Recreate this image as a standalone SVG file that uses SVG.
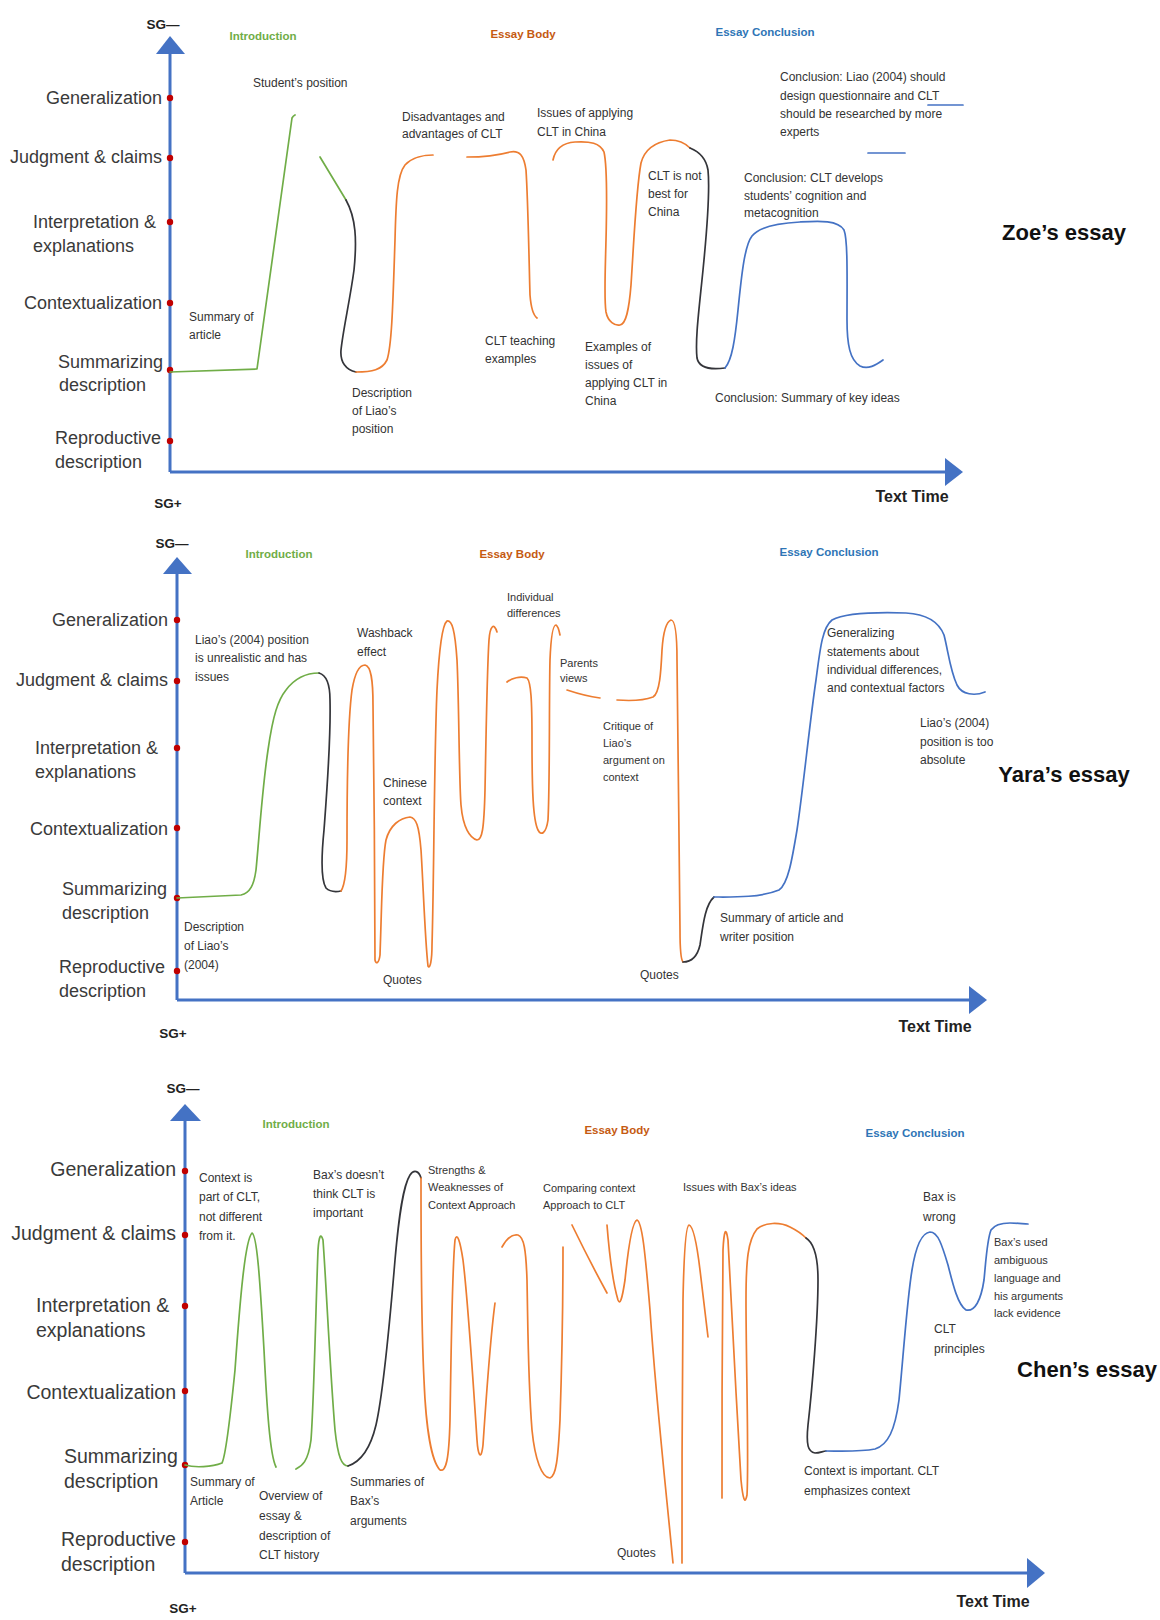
<svg xmlns="http://www.w3.org/2000/svg" width="1160" height="1620" viewBox="0 0 1160 1620">
  <style>
    text { font-family: "Liberation Sans", Arial, sans-serif; fill: #333; }
    .ax { stroke: #4472C4; stroke-width: 3; fill: none; }
    .ah { fill: #4472C4; }
    .dot { fill: #C00000; }
    .lvl { font-size: 18px; fill: #3a3a3a; }
    .lvl3 { font-size: 19.5px; fill: #3a3a3a; }
    .lbl { font-size: 12px; fill: #333; }
    .sm { font-size: 11px; fill: #333; }
    .sec { font-size: 11.5px; font-weight: bold; text-anchor: middle; }
    .intro { fill: #70AD47; }
    .body { fill: #C55A11; }
    .concl { fill: #2E75B6; }
    .sg { font-size: 13.5px; font-weight: bold; fill: #222; text-anchor: middle; }
    .tt { font-size: 16px; font-weight: bold; fill: #222; text-anchor: middle; }
    .ttl { font-size: 22px; font-weight: bold; fill: #111; text-anchor: middle; }
    .c { fill: none; stroke-width: 1.7; stroke-linecap: round; stroke-linejoin: round; }
    .g { stroke: #70AD47; }
    .o { stroke: #ED7D31; }
    .k { stroke: #34353a; }
    .b { stroke: #4472C4; }
  </style>

  <!-- ===== Zoe's essay ===== -->
  <g id="zoe">
    <g id="zoe-axes">
      <line class="ax" x1="170" y1="52" x2="170" y2="472"/>
      <polygon class="ah" points="156,54 170,36 185,54"/>
      <line class="ax" x1="170" y1="472" x2="947" y2="472"/>
      <polygon class="ah" points="945,458 963,472 945,486"/>
      <circle class="dot" cx="170" cy="98" r="3.2"/>
      <circle class="dot" cx="170" cy="158" r="3.2"/>
      <circle class="dot" cx="170" cy="222" r="3.2"/>
      <circle class="dot" cx="170" cy="303" r="3.2"/>
      <circle class="dot" cx="170" cy="370" r="3.2"/>
      <circle class="dot" cx="170" cy="441" r="3.2"/>
      <text class="sg" x="163" y="29">SG—</text>
      <text class="sg" x="168" y="508">SG+</text>
      <text class="tt" x="912" y="502">Text Time</text>
    </g>
    <g id="zoe-levels">
      <text class="lvl" x="162" y="104" text-anchor="end">Generalization</text>
      <text class="lvl" x="162" y="163" text-anchor="end">Judgment &amp; claims</text>
      <text class="lvl" x="33" y="228">Interpretation &amp;</text>
      <text class="lvl" x="33" y="252">explanations</text>
      <text class="lvl" x="162" y="309" text-anchor="end">Contextualization</text>
      <text class="lvl" x="58" y="368">Summarizing</text>
      <text class="lvl" x="59" y="391">description</text>
      <text class="lvl" x="55" y="444">Reproductive</text>
      <text class="lvl" x="55" y="468">description</text>
    </g>
    <g id="zoe-sections">
      <text class="sec intro" x="263" y="40">Introduction</text>
      <text class="sec body" x="523" y="38">Essay Body</text>
      <text class="sec concl" x="765" y="36">Essay Conclusion</text>
    </g>
    <g id="zoe-wave">
      <path class="c g" d="M170,372 L257,369 L292,118 Q293,116 295,115"/>
      <path class="c g" d="M320,157 L346,200"/>
      <path class="c k" d="M346,200 C356,218 357,240 354,270 C350,300 343,330 341,350 C340,362 346,370 356,372"/>
      <path class="c o" d="M356,372 C372,372 382,370 387,360 C392,345 393,300 395,240 C396,200 397,175 405,165 C412,157 425,155 433,155"/>
      <path class="c o" d="M467,157 C480,157 495,156 510,152 C520,150 524,156 526,170 C528,200 529,260 530,295 C531,308 533,315 537,318"/>
      <path class="c o" d="M553,160 C555,150 562,143 575,142 C590,141 600,143 604,152 C607,165 607,200 606,240 C605,280 604,300 606,312 C608,322 615,326 620,325 C626,324 629,310 631,285 C634,240 636,190 641,163 C645,148 656,142 670,140 C680,140 686,144 690,148"/>
      <path class="c k" d="M690,148 C700,152 706,158 708,170 C710,190 707,230 703,270 C699,310 695,340 697,358 C699,368 710,370 725,368"/>
      <path class="c b" d="M725,368 C732,360 735,340 738,310 C742,270 745,245 752,236 C760,226 780,223 800,222 C820,221 838,220 844,230 C848,240 847,280 847,320 C847,345 850,360 860,366 C868,370 876,365 883,360"/>
      <path class="c b" d="M928,105 L963,105"/>
      <path class="c b" d="M868,153 L905,153"/>
    </g>
    <g id="zoe-labels">
      <text class="lbl" x="253" y="87">Student’s position</text>
      <text class="lbl" x="402" y="121">Disadvantages and</text>
      <text class="lbl" x="402" y="138">advantages of CLT</text>
      <text class="lbl" x="537" y="117">Issues of applying</text>
      <text class="lbl" x="537" y="136">CLT in China</text>
      <text class="lbl" x="648" y="180">CLT is not</text>
      <text class="lbl" x="648" y="198">best for</text>
      <text class="lbl" x="648" y="216">China</text>
      <text class="lbl" x="780" y="81">Conclusion: Liao (2004) should</text>
      <text class="lbl" x="780" y="100">design questionnaire and CLT</text>
      <text class="lbl" x="780" y="118">should be researched by more</text>
      <text class="lbl" x="780" y="136">experts</text>
      <text class="lbl" x="744" y="182">Conclusion: CLT develops</text>
      <text class="lbl" x="744" y="200">students’ cognition and</text>
      <text class="lbl" x="744" y="217">metacognition</text>
      <text class="lbl" x="189" y="321">Summary of</text>
      <text class="lbl" x="189" y="339">article</text>
      <text class="lbl" x="352" y="397">Description</text>
      <text class="lbl" x="352" y="415">of Liao’s</text>
      <text class="lbl" x="352" y="433">position</text>
      <text class="lbl" x="485" y="345">CLT teaching</text>
      <text class="lbl" x="485" y="363">examples</text>
      <text class="lbl" x="585" y="351">Examples of</text>
      <text class="lbl" x="585" y="369">issues of</text>
      <text class="lbl" x="585" y="387">applying CLT in</text>
      <text class="lbl" x="585" y="405">China</text>
      <text class="lbl" x="715" y="402">Conclusion: Summary of key ideas</text>
    </g>
    <text class="ttl" x="1064" y="240">Zoe’s essay</text>
  </g>

  <!-- ===== Yara's essay ===== -->
  <g id="yara">
    <g id="yara-axes">
      <line class="ax" x1="177" y1="572" x2="177" y2="1000"/>
      <polygon class="ah" points="163,574 177,557 192,574"/>
      <line class="ax" x1="177" y1="1000" x2="971" y2="1000"/>
      <polygon class="ah" points="969,986 987,1000 969,1014"/>
      <circle class="dot" cx="177" cy="620" r="3.2"/>
      <circle class="dot" cx="177" cy="681" r="3.2"/>
      <circle class="dot" cx="177" cy="748" r="3.2"/>
      <circle class="dot" cx="177" cy="828" r="3.2"/>
      <circle class="dot" cx="177" cy="898" r="3.2"/>
      <circle class="dot" cx="177" cy="971" r="3.2"/>
      <text class="sg" x="172" y="548">SG—</text>
      <text class="sg" x="173" y="1038">SG+</text>
      <text class="tt" x="935" y="1032">Text Time</text>
    </g>
    <g id="yara-levels">
      <text class="lvl" x="168" y="626" text-anchor="end">Generalization</text>
      <text class="lvl" x="168" y="686" text-anchor="end">Judgment &amp; claims</text>
      <text class="lvl" x="35" y="754">Interpretation &amp;</text>
      <text class="lvl" x="35" y="778">explanations</text>
      <text class="lvl" x="168" y="835" text-anchor="end">Contextualization</text>
      <text class="lvl" x="62" y="895">Summarizing</text>
      <text class="lvl" x="62" y="919">description</text>
      <text class="lvl" x="59" y="973">Reproductive</text>
      <text class="lvl" x="59" y="997">description</text>
    </g>
    <g id="yara-sections">
      <text class="sec intro" x="279" y="558">Introduction</text>
      <text class="sec body" x="512" y="558">Essay Body</text>
      <text class="sec concl" x="829" y="556">Essay Conclusion</text>
    </g>
    <g id="yara-wave">
      <path class="c g" d="M177,898 L241,895 C250,893 254,885 256,870 C259,840 262,790 268,750 C273,715 278,700 286,690 C295,678 305,673 319,673"/>
      <path class="c k" d="M319,673 C326,675 330,685 330,700 C331,740 327,790 324,830 C321,860 321,880 326,888 C330,892 336,892 341,891"/>
      <path class="c o" d="M341,891 C345,885 347,870 347,840 C347,790 348,720 352,690 C355,672 360,665 365,665 C371,666 373,680 373,705 C374,770 375,900 375,960 C376,965 379,963 380,955 C382,900 382,860 386,840 C390,825 400,818 410,817 C416,818 419,825 421,850 C423,880 425,940 428,966 C430,970 432,960 432,945 C434,880 434,760 437,690 C439,650 442,625 447,621 C452,620 455,630 457,660 C459,700 459,780 461,805 C463,828 470,838 477,840 C482,840 484,830 485,790 C486,740 487,670 489,640 C490,626 494,622 497,632"/>
      <path class="c o" d="M507,682 C512,678 520,676 527,678 C531,682 532,700 532,740 C532,790 533,820 538,830 C541,836 546,834 548,820 C550,780 549,700 550,660 C551,635 553,625 556,625 C558,626 559,630 560,635"/>
      <path class="c o" d="M567,690 Q585,696 600,698"/>
      <path class="c o" d="M617,700 C630,701 645,700 653,697 C660,693 661,670 662,650 C663,635 666,622 671,620 C675,620 677,635 677,660 C678,720 679,850 680,930 C680,950 681,960 683,962"/>
      <path class="c k" d="M683,962 C690,962 697,958 700,945 C703,925 705,905 714,897"/>
      <path class="c b" d="M714,897 C730,897 760,898 779,890 C788,884 792,860 797,830 C803,790 810,720 816,680 C820,650 822,628 832,620 C845,613 875,612 906,613 C925,614 938,620 944,635 C948,650 950,670 957,685 C962,695 975,696 985,692"/>
    </g>
    <g id="yara-labels">
      <text class="lbl" x="195" y="644">Liao’s (2004) position</text>
      <text class="lbl" x="195" y="662">is unrealistic and has</text>
      <text class="lbl" x="195" y="681">issues</text>
      <text class="lbl" x="184" y="931">Description</text>
      <text class="lbl" x="184" y="950">of Liao’s</text>
      <text class="lbl" x="184" y="969">(2004)</text>
      <text class="lbl" x="357" y="637">Washback</text>
      <text class="lbl" x="357" y="656">effect</text>
      <text class="lbl" x="383" y="787">Chinese</text>
      <text class="lbl" x="383" y="805">context</text>
      <text class="lbl" x="383" y="984">Quotes</text>
      <text class="sm" x="507" y="601">Individual</text>
      <text class="sm" x="507" y="617">differences</text>
      <text class="sm" x="560" y="667">Parents</text>
      <text class="sm" x="560" y="682">views</text>
      <text class="sm" x="603" y="730">Critique of</text>
      <text class="sm" x="603" y="747">Liao’s</text>
      <text class="sm" x="603" y="764">argument on</text>
      <text class="sm" x="603" y="781">context</text>
      <text class="lbl" x="640" y="979">Quotes</text>
      <text class="lbl" x="720" y="922">Summary of article and</text>
      <text class="lbl" x="720" y="941">writer position</text>
      <text class="lbl" x="827" y="637">Generalizing</text>
      <text class="lbl" x="827" y="656">statements about</text>
      <text class="lbl" x="827" y="674">individual differences,</text>
      <text class="lbl" x="827" y="692">and contextual factors</text>
      <text class="lbl" x="920" y="727">Liao’s (2004)</text>
      <text class="lbl" x="920" y="746">position is too</text>
      <text class="lbl" x="920" y="764">absolute</text>
    </g>
    <text class="ttl" x="1064" y="782">Yara’s essay</text>
  </g>

  <!-- ===== Chen's essay ===== -->
  <g id="chen">
    <g id="chen-axes">
      <line class="ax" x1="185" y1="1119" x2="185" y2="1573"/>
      <polygon class="ah" points="170,1121 185,1104 201,1121"/>
      <line class="ax" x1="185" y1="1573" x2="1029" y2="1573"/>
      <polygon class="ah" points="1027,1558 1045,1573 1027,1588"/>
      <circle class="dot" cx="185" cy="1171" r="3.2"/>
      <circle class="dot" cx="185" cy="1235" r="3.2"/>
      <circle class="dot" cx="185" cy="1306" r="3.2"/>
      <circle class="dot" cx="185" cy="1391" r="3.2"/>
      <circle class="dot" cx="185" cy="1465" r="3.2"/>
      <circle class="dot" cx="185" cy="1542" r="3.2"/>
      <text class="sg" x="183" y="1093">SG—</text>
      <text class="sg" x="183" y="1613">SG+</text>
      <text class="tt" x="993" y="1607">Text Time</text>
    </g>
    <g id="chen-levels">
      <text class="lvl3" x="176" y="1176" text-anchor="end">Generalization</text>
      <text class="lvl3" x="176" y="1240" text-anchor="end">Judgment &amp; claims</text>
      <text class="lvl3" x="36" y="1312">Interpretation &amp;</text>
      <text class="lvl3" x="36" y="1337">explanations</text>
      <text class="lvl3" x="176" y="1399" text-anchor="end">Contextualization</text>
      <text class="lvl3" x="64" y="1463">Summarizing</text>
      <text class="lvl3" x="64" y="1488">description</text>
      <text class="lvl3" x="61" y="1546">Reproductive</text>
      <text class="lvl3" x="61" y="1571">description</text>
    </g>
    <g id="chen-sections">
      <text class="sec intro" x="296" y="1128">Introduction</text>
      <text class="sec body" x="617" y="1134">Essay Body</text>
      <text class="sec concl" x="915" y="1137">Essay Conclusion</text>
    </g>
    <g id="chen-wave">
      <path class="c g" d="M185,1465 C195,1468 212,1467 222,1463 C226,1455 230,1420 235,1370 C240,1300 245,1240 252,1233 C257,1235 260,1280 264,1350 C267,1410 270,1455 276,1467"/>
      <path class="c g" d="M296,1469 C302,1466 308,1462 311,1440 C314,1400 316,1300 318,1250 C319,1235 321,1233 323,1240 C326,1280 330,1370 335,1430 C338,1458 342,1466 348,1466"/>
      <path class="c k" d="M348,1466 C360,1462 370,1450 376,1425 C384,1390 390,1320 395,1260 C399,1215 403,1186 410,1175 C414,1169 419,1171 421,1178"/>
      <path class="c o" d="M421,1178 C421,1230 421,1320 424,1380 C426,1430 432,1462 440,1470 C446,1472 449,1460 450,1420 C451,1360 452,1270 455,1240 C457,1232 460,1240 463,1260 C468,1300 473,1380 477,1440 C478,1455 481,1462 483,1445 C486,1400 490,1340 495,1303"/>
      <path class="c o" d="M502,1247 C507,1238 513,1234 518,1235 C524,1237 526,1250 527,1280 C528,1330 528,1380 532,1430 C535,1460 542,1478 550,1478 C556,1476 558,1460 560,1420 C562,1360 563,1290 563,1247"/>
      <path class="c o" d="M572,1225 Q590,1262 607,1293"/>
      <path class="c o" d="M607,1225 C609,1250 612,1280 618,1300 C620,1305 622,1300 625,1280 C628,1250 632,1222 637,1220 C642,1222 645,1250 650,1310 C656,1400 665,1480 673,1563"/>
      <path class="c o" d="M682,1563 C682,1480 682,1370 683,1300 C684,1250 686,1226 689,1225 C693,1226 697,1245 700,1270 C703,1295 706,1320 708,1337"/>
      <path class="c o" d="M722,1498 C722,1420 722,1320 723,1250 C724,1230 726,1226 728,1240 C731,1290 736,1400 741,1480 C743,1500 745,1505 747,1495 C749,1460 746,1360 746,1300 C746,1260 748,1240 757,1229 C765,1222 780,1222 790,1227 C798,1231 803,1235 806,1238"/>
      <path class="c k" d="M806,1238 C814,1243 818,1255 818,1280 C818,1320 812,1390 808,1425 C806,1445 808,1452 815,1453 C820,1453 823,1451 826,1451"/>
      <path class="c b" d="M826,1451 C840,1451 860,1452 875,1449 C888,1445 895,1430 899,1400 C903,1360 907,1300 912,1270 C916,1245 922,1233 930,1232 C938,1232 942,1245 948,1265 C953,1285 958,1305 966,1310 C975,1312 981,1300 984,1280 C986,1260 987,1240 991,1230 C995,1224 1002,1223 1010,1223 C1018,1223 1024,1224 1028,1224"/>
    </g>
    <g id="chen-labels">
      <text class="lbl" x="199" y="1182">Context is</text>
      <text class="lbl" x="199" y="1201">part of CLT,</text>
      <text class="lbl" x="199" y="1221">not different</text>
      <text class="lbl" x="199" y="1240">from it.</text>
      <text class="lbl" x="313" y="1179">Bax’s doesn’t</text>
      <text class="lbl" x="313" y="1198">think CLT is</text>
      <text class="lbl" x="313" y="1217">important</text>
      <text class="sm" x="428" y="1174">Strengths &amp;</text>
      <text class="sm" x="428" y="1191">Weaknesses of</text>
      <text class="sm" x="428" y="1209">Context Approach</text>
      <text class="sm" x="543" y="1192">Comparing context</text>
      <text class="sm" x="543" y="1209">Approach to CLT</text>
      <text class="sm" x="683" y="1191">Issues with Bax’s ideas</text>
      <text class="lbl" x="923" y="1201">Bax is</text>
      <text class="lbl" x="923" y="1221">wrong</text>
      <text class="sm" x="994" y="1246">Bax’s used</text>
      <text class="sm" x="994" y="1264">ambiguous</text>
      <text class="sm" x="994" y="1282">language and</text>
      <text class="sm" x="994" y="1300">his arguments</text>
      <text class="sm" x="994" y="1317">lack evidence</text>
      <text class="lbl" x="934" y="1333">CLT</text>
      <text class="lbl" x="934" y="1353">principles</text>
      <text class="lbl" x="804" y="1475">Context is important. CLT</text>
      <text class="lbl" x="804" y="1495">emphasizes context</text>
      <text class="lbl" x="617" y="1557">Quotes</text>
      <text class="lbl" x="190" y="1486">Summary of</text>
      <text class="lbl" x="190" y="1505">Article</text>
      <text class="lbl" x="259" y="1500">Overview of</text>
      <text class="lbl" x="259" y="1520">essay &amp;</text>
      <text class="lbl" x="259" y="1540">description of</text>
      <text class="lbl" x="259" y="1559">CLT history</text>
      <text class="lbl" x="350" y="1486">Summaries of</text>
      <text class="lbl" x="350" y="1505">Bax’s</text>
      <text class="lbl" x="350" y="1525">arguments</text>
    </g>
    <text class="ttl" x="1087" y="1377">Chen’s essay</text>
  </g>
</svg>
